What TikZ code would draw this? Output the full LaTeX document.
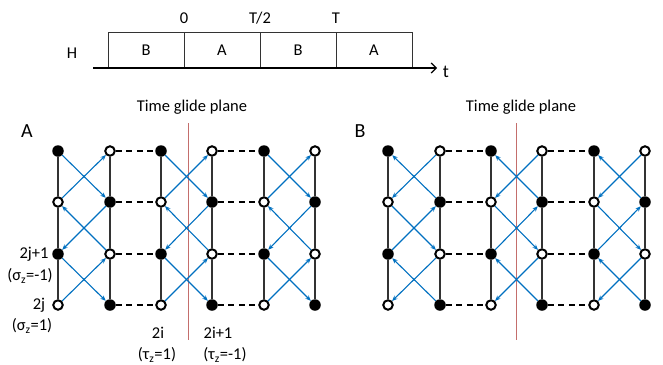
\documentclass[tikz,border=0pt]{standalone}
\usepackage{fontspec}
\setmainfont{Carlito}
\usepackage{xcolor}
\usetikzlibrary{arrows.meta, positioning}

\definecolor{hopblue}{RGB}{0,112,192}
\definecolor{glidered}{RGB}{196,110,108}

\tikzset{
  full/.style={circle, fill=black, inner sep=0pt, minimum size=11.5pt},
  hollow/.style={circle, draw=black, line width=2pt, fill=white, inner sep=0pt, minimum size=9.5pt},
  hop/.style={->, hopblue, line width=1.1pt},
  rung/.style={black!80, line width=1.7pt},
  bond/.style={line width=1.2pt, dash pattern=on 6pt off 4.5pt},
  glide/.style={glidered, line width=0.8pt},
  slot/.style={draw=black!80, rectangle, line width=0.8pt, minimum width=76pt, minimum height=36pt, inner sep=0pt},
  lbl/.style={inner sep=0pt}
}

\begin{document}
\begin{tikzpicture}[x=1pt, y=-1pt, >={Stealth[length=5.5pt, width=4.5pt]}, font=\fontsize{16.5}{19}\selectfont]
        \useasboundingbox (0,0) rectangle (663,364);

        % drive sequence
        \node (slot1) at (146,50) [slot] {B};
        \node (slot2) at (222,50) [slot] {A};
        \node (slot3) at (298,50) [slot] {B};
        \node (slot4) at (374,50) [slot] {A};
        \node (ham) at (72,53) [lbl] {H};
        \node (tzero) at (184,18) [lbl] {0};
        \node (thalf) at (260,18) [lbl] {T/2};
        \node (tfull) at (336,18) [lbl] {T};
        \node (tlbl) at (446,72) [lbl, font=\fontsize{18}{20}\selectfont] {t};
        \coordinate (tstart) at (93,68);
        \coordinate (tend) at (437,68);
        \draw[-{Straight Barb[length=5pt, width=10pt]}, line width=1.2pt] (tstart) -- (tend);

        % panel labels
        \node (panA) at (27,131) [lbl, font=\fontsize{20}{22}\selectfont] {A};
        \node (panB) at (360,131) [lbl, font=\fontsize{20}{22}\selectfont] {B};
        \node (glideA) at (192,107) [lbl] {Time glide plane};
        \node (glideB) at (521,107) [lbl] {Time glide plane};
        \coordinate (glideAtop) at (188,123);
        \coordinate (glideAbot) at (188,340);
        \coordinate (glideBtop) at (516,123);
        \coordinate (glideBbot) at (516,340);
        \draw[glide] (glideAtop) -- (glideAbot);
        \draw[glide] (glideBtop) -- (glideBbot);

        % sites
        \foreach \p/\x in {a/58, b/388} {
          \foreach \c/\dx in {1/0, 2/52, 3/103, 4/154, 5/206, 6/257} {
            \foreach \r/\y in {1/151, 2/202, 3/254, 4/305} {
              \pgfmathtruncatemacro\odd{mod(\r+\c,2)}
              \ifnum\odd=1 \def\kind{hollow}\else\def\kind{full}\fi
              \node (\p\r\c) at ({\x+\dx},\y) [\kind] {};
            }
          }
        }

        % legs and rungs
        \foreach \p in {a,b} {
          \foreach \c in {1,...,6} {
            \draw[rung] (\p1\c) -- (\p2\c);
            \draw[rung] (\p2\c) -- (\p3\c);
            \draw[rung] (\p3\c) -- (\p4\c);
          }
          \foreach \c/\d in {2/3, 4/5} {
            \foreach \r in {1,...,4} {
              \draw[bond] (\p\r\c) -- (\p\r\d);
            }
          }
        }

        % hoppings
        \foreach \p/\f in {a/0, b/1} {
          \foreach \L in {1,3,5} {
            \foreach \r in {1,2,3} {
              \pgfmathtruncatemacro\R{\L+1}
              \pgfmathtruncatemacro\rn{\r+1}
              \pgfmathtruncatemacro\dir{mod(\r+\f,2)}
              \ifnum\dir=1
                \draw[hop] (\p\r\L) -- (\p\rn\R);
                \draw[hop] (\p\rn\L) -- (\p\r\R);
              \else
                \draw[hop] (\p\r\R) -- (\p\rn\L);
                \draw[hop] (\p\rn\R) -- (\p\r\L);
              \fi
            }
          }
        }

        % site labels
        \node (oddrow) at (34,254) [lbl] {2j+1};
        \node (oddsig) at (30,276) [lbl] {(σ\textsubscript{z}=-1)};
        \node (evenrow) at (39,305) [lbl] {2j};
        \node (evensig) at (32,326) [lbl] {(σ\textsubscript{z}=1)};
        \node (evencol) at (158,333) [lbl] {2i};
        \node (eventau) at (157,355) [lbl] {(τ\textsubscript{z}=1)};
        \node (oddcol) at (218,333) [lbl] {2i+1};
        \node (oddtau) at (225,355) [lbl] {(τ\textsubscript{z}=-1)};
    \end{tikzpicture}
\end{document}
